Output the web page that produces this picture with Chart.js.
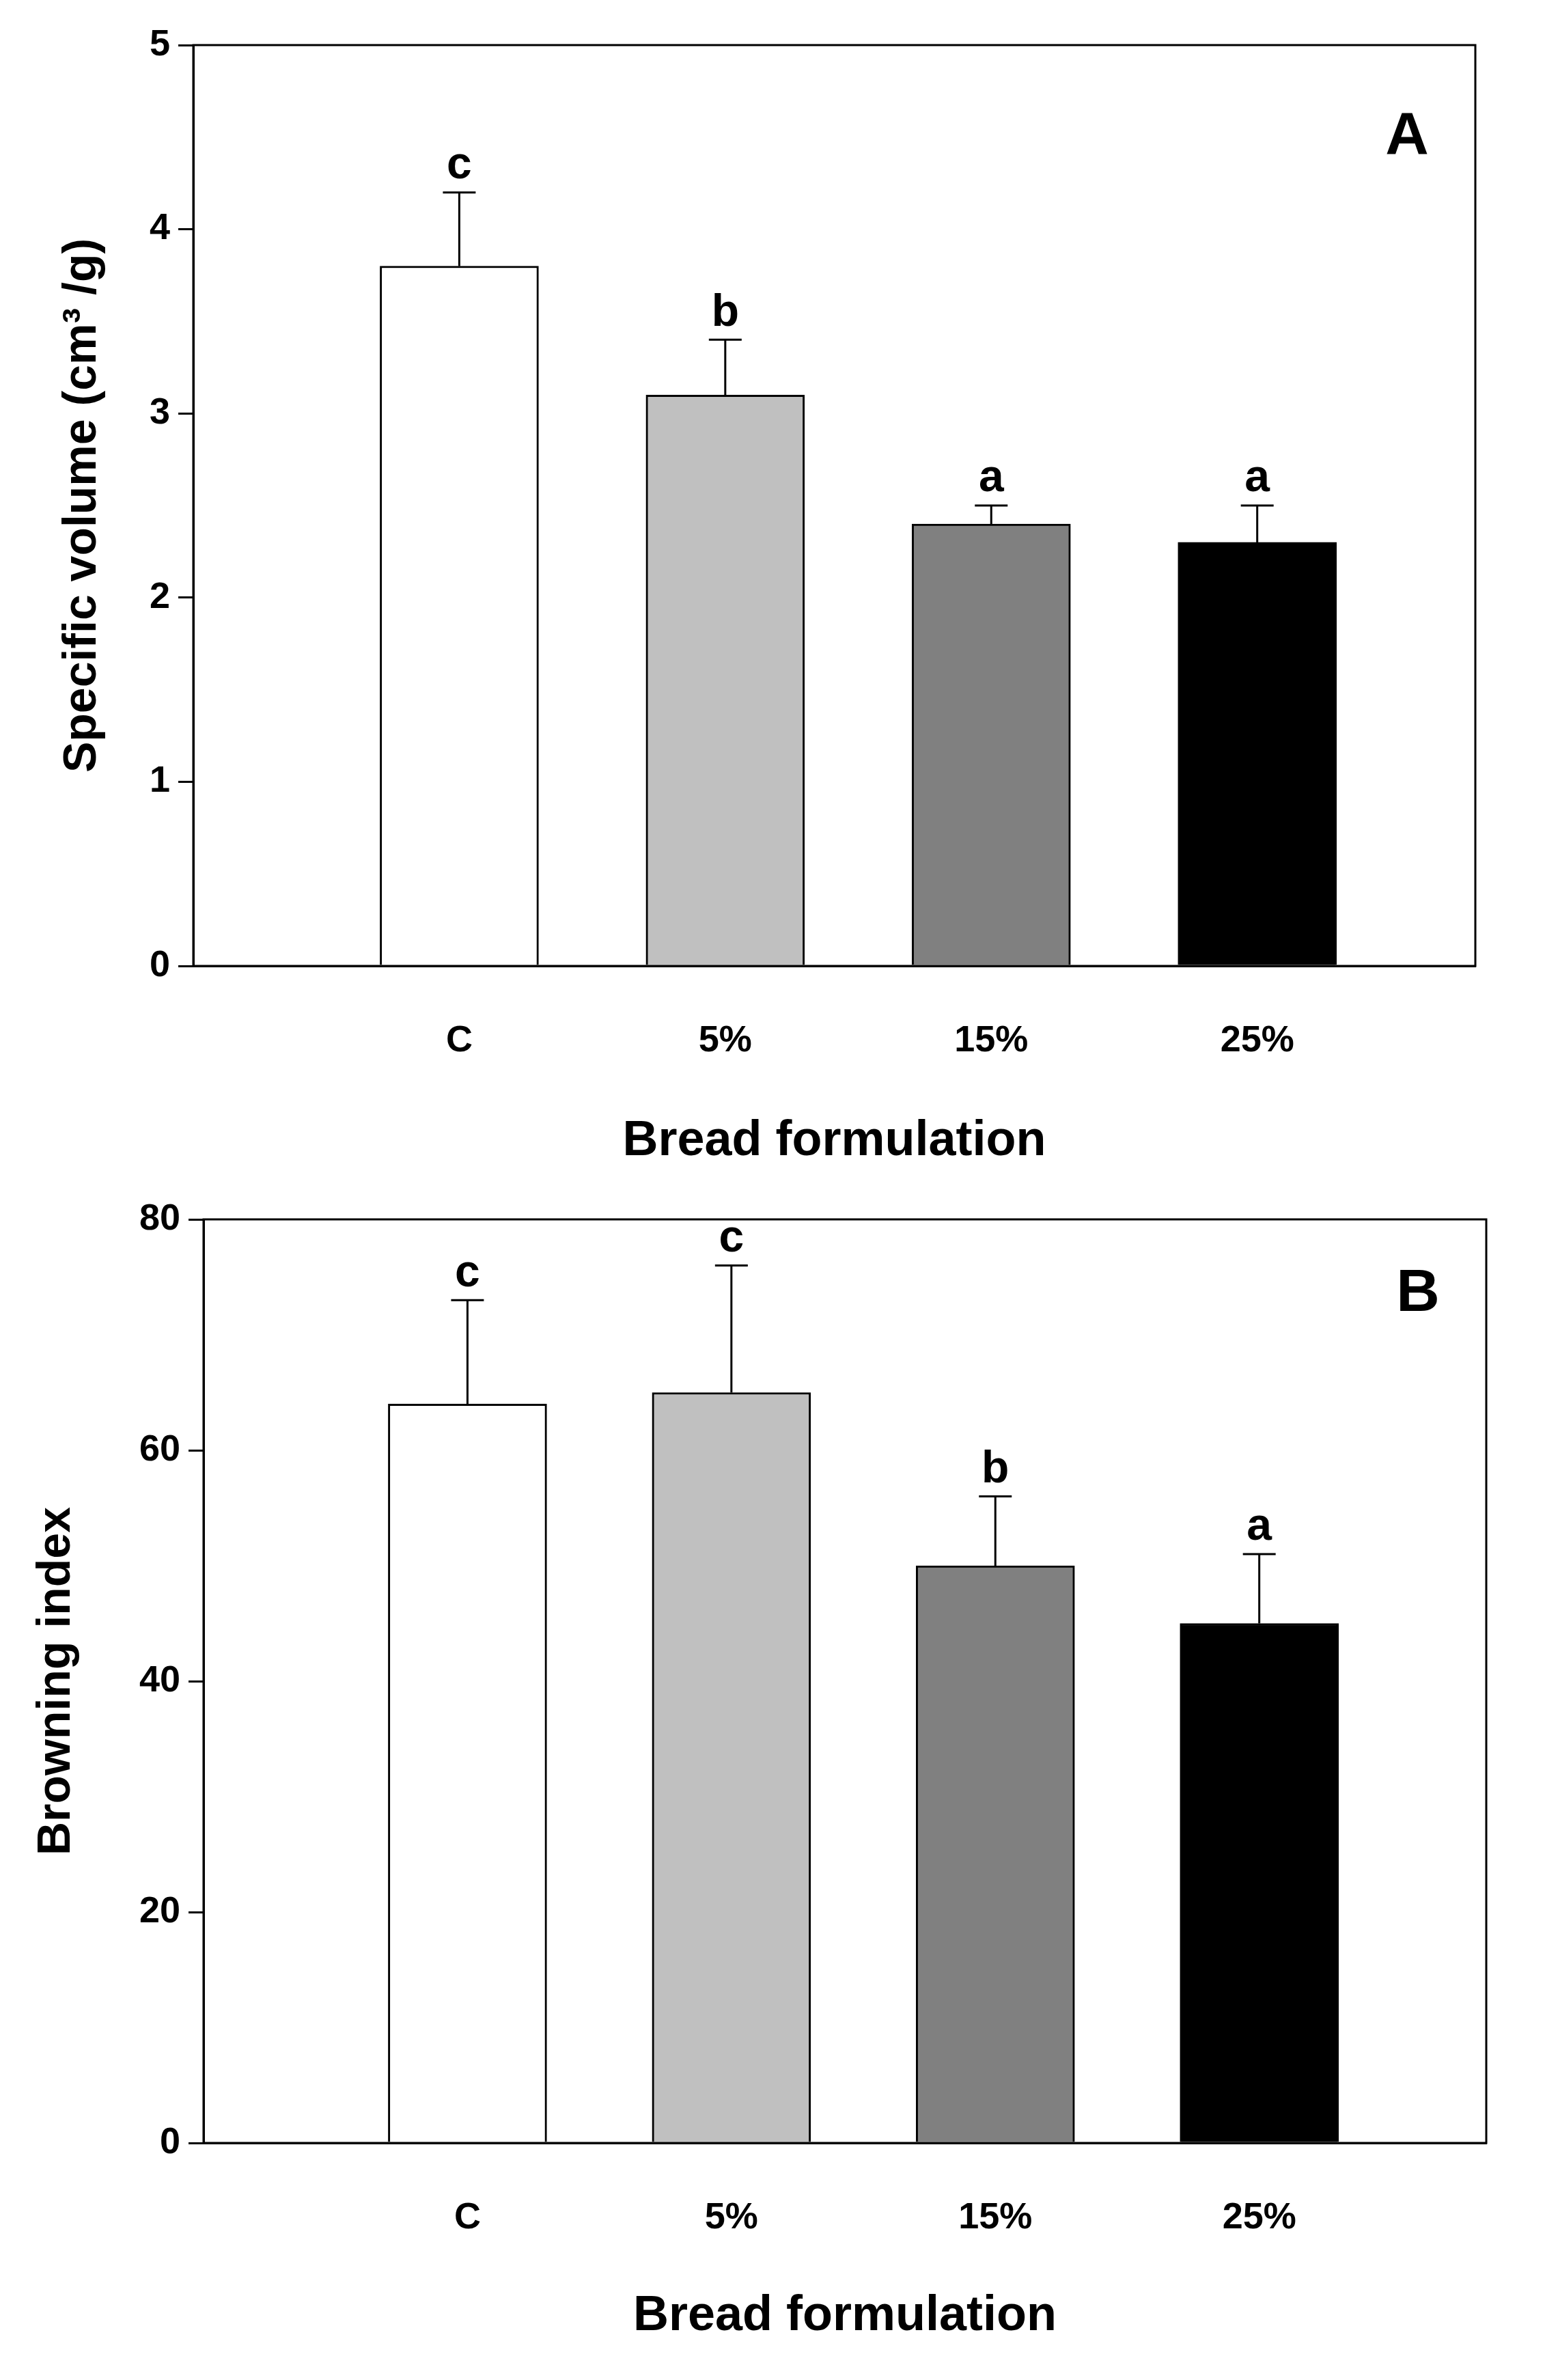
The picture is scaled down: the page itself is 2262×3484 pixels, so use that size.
<!DOCTYPE html>
<html><head><meta charset="utf-8">
<script src="https://cdn.jsdelivr.net/npm/chart.js@4/dist/chart.umd.min.js"></script>
<style>body{margin:0;background:#fff}canvas{display:block}</style>
</head><body>
<div style="width:2262px;height:1740px"><canvas id="a"></canvas></div>
<div style="width:2262px;height:1744px"><canvas id="b"></canvas></div>
<script>
const categories = ['C','5%','15%','25%'];
const colors = ['#ffffff','#c0c0c0','#808080','#000000'];
const volume = [3.8,3.1,2.4,2.3];
const volumeErr = [0.4,0.3,0.1,0.2];
const volumeLetters = ['c','b','a','a'];
const browning = [64,65,50,45];
const browningErr = [9,11,6,6];
const browningLetters = ['c','c','b','a'];
const volumeTicks = [0,1,2,3,4,5];
const browningTicks = [0,20,40,60,80];
const F = '"Liberation Sans", Arial, sans-serif';

function make(id, vals, errs, letters, ticks, ytitle, panel, cfg){
  const plugin = {
    id:'extras',
    afterDatasetsDraw(ch){
      const c=ch.ctx, xs=ch.scales.x, ys=ch.scales.y, a=ch.chartArea;
      c.save();
      c.strokeStyle='#000'; c.lineWidth=3;
      vals.forEach((v,i)=>{
        const x=xs.getPixelForValue(i+1), y0=ys.getPixelForValue(v), y1=ys.getPixelForValue(v+errs[i]);
        c.beginPath(); c.moveTo(x,y0); c.lineTo(x,y1); c.moveTo(x-24,y1); c.lineTo(x+24,y1); c.stroke();
        c.fillStyle='#000'; c.font='bold 66px '+F; c.textAlign='center'; c.textBaseline='bottom';
        c.fillText(letters[i], x, y1-6);
      });
      c.strokeRect(a.left,a.top,a.right-a.left,a.bottom-a.top);
      c.font='bold 88px '+F; c.textAlign='center'; c.textBaseline='middle';
      c.fillText(panel, a.right-cfg.panelDx, a.top+cfg.panelDy);
      c.restore();
    }
  };
  new Chart(document.getElementById(id),{
    type:'bar',
    data:{datasets:[{data:vals.map((v,i)=>({x:i+1,y:v})),backgroundColor:colors,borderColor:'#000',borderWidth:3,barThickness:232}]},
    options:{responsive:true,maintainAspectRatio:false,animation:false,
      layout:{padding:{top:cfg.top,right:cfg.right,left:0,bottom:0}},
      plugins:{legend:{display:false},tooltip:{enabled:false}},
      scales:{
        x:{type:'linear',min:0,max:cfg.xmax,offset:false,
          afterBuildTicks:s=>{s.ticks=[1,2,3,4].map(v=>({value:v}));},
          afterFit:s=>{s.height=cfg.xh;},
          grid:{display:false},border:{display:true,color:'#000',width:3},
          ticks:{padding:cfg.tickPad,color:'#000',font:{family:F,size:54,weight:'bold'},callback:v=>categories[v-1]},
          title:{display:true,text:'Bread formulation',color:'#000',font:{family:F,size:72,weight:'bold'},padding:{top:0,bottom:cfg.titleBottom}}},
        y:{min:0,max:ticks[ticks.length-1],
          afterBuildTicks:s=>{s.ticks=ticks.map(v=>({value:v}));},
          afterFit:s=>{s.width=cfg.yw;},
          grid:{drawOnChartArea:false,tickLength:22,color:'#000',lineWidth:3},
          border:{display:true,color:'#000',width:3},
          ticks:{padding:12,color:'#000',font:{family:F,size:54,weight:'bold'}},
          title:{display:true,text:ytitle,color:'#000',font:{family:F,size:68,weight:'bold'},padding:{top:cfg.ytPad,bottom:0}}}
      }},
    plugins:[plugin]
  });
}
make('a',volume,volumeErr,volumeLetters,volumeTicks,'Specific volume (cm³ /g)','A',
  {top:66,right:102,xh:326,yw:283,xmax:4.82,tickPad:70,titleBottom:26,ytPad:80,panelDx:100,panelDy:135});
make('b',browning,browningErr,browningLetters,browningTicks,'Browning index','B',
  {top:45,right:86,xh:347,yw:298,xmax:4.86,tickPad:70,titleBottom:50,ytPad:42,panelDx:100,panelDy:110});
</script>
</body></html>
